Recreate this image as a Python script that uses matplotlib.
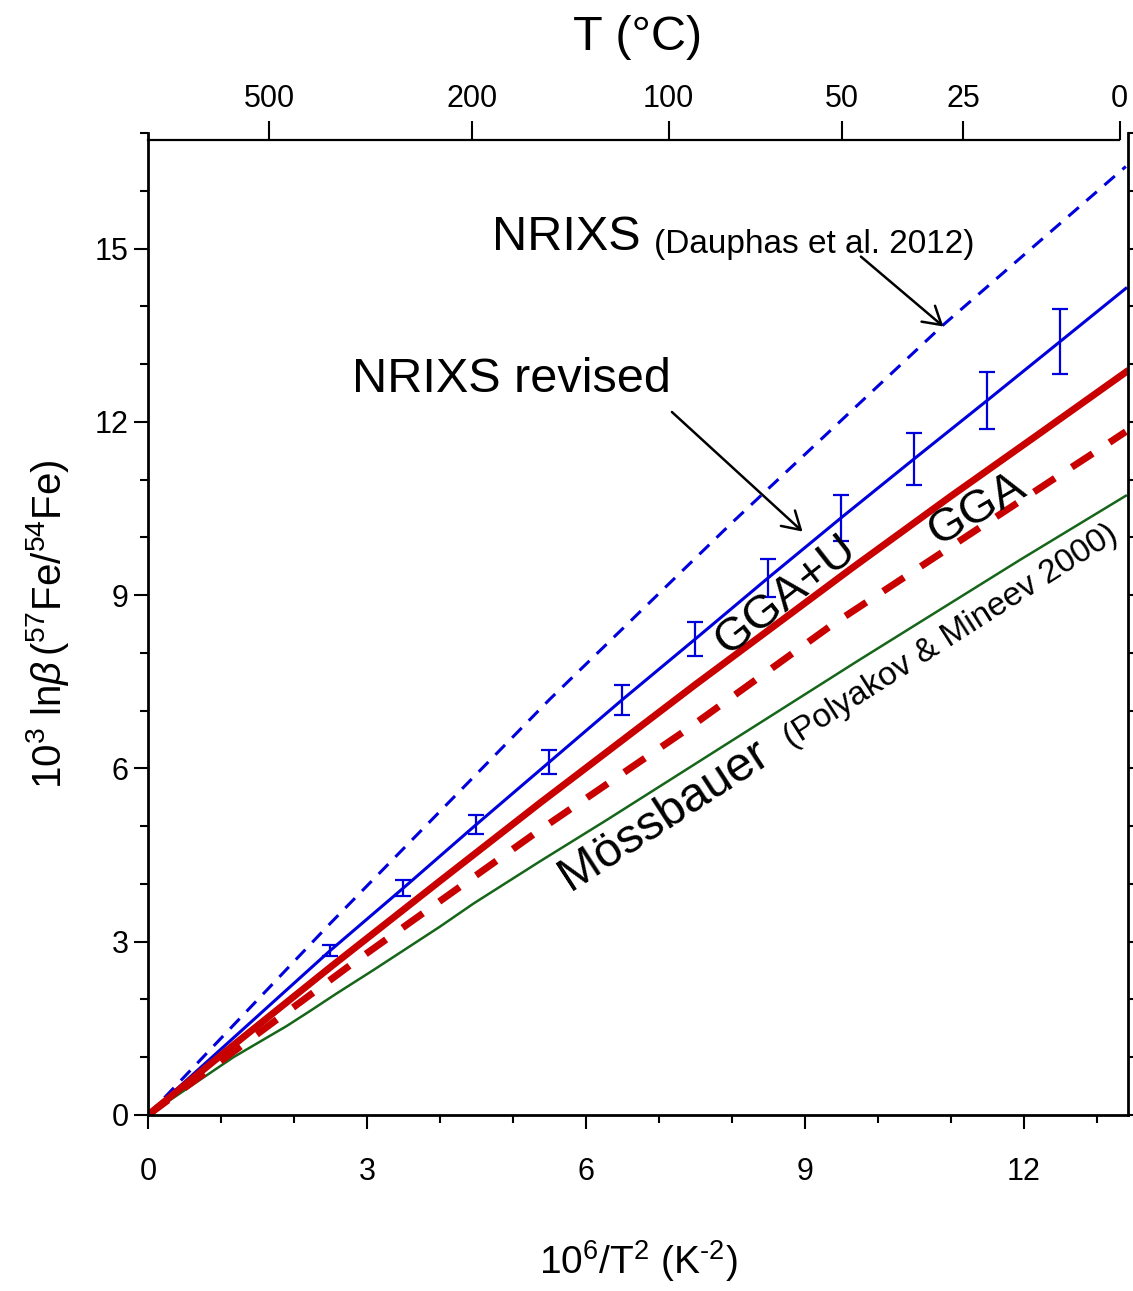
import numpy as np
import matplotlib
matplotlib.use("Agg")
import matplotlib.pyplot as plt
from matplotlib.ticker import MultipleLocator

plt.rcParams['font.family'] = ['Liberation Sans', 'DejaVu Sans']
plt.rcParams['mathtext.fontset'] = 'custom'
plt.rcParams['mathtext.rm'] = 'Liberation Sans'
plt.rcParams['mathtext.it'] = 'Liberation Sans:italic'

# NRIXS (Dauphas et al. 2012), dashed blue
x_dauphas = [0, 2.5, 5.5, 8.0, 10.9, 13.4]
y_dauphas = [0, 3.32, 7.19, 10.25, 13.68, 16.42]

# NRIXS revised, solid blue + error bars
x_revised = [0, 2.5, 3.5, 4.5, 5.5, 6.5, 7.5, 8.5, 9.5, 10.5, 11.5, 12.5, 13.4]
y_revised = [0, 2.85, 3.93, 5.03, 6.11, 7.19, 8.24, 9.30, 10.34, 11.36, 12.37, 13.39, 14.31]
x_err = [2.5, 3.5, 4.5, 5.5, 6.5, 7.5, 8.5, 9.5, 10.5, 11.5, 12.5]
y_err = [2.85, 3.93, 5.03, 6.11, 7.19, 8.24, 9.30, 10.34, 11.36, 12.37, 13.39]
e_err = [0.09, 0.14, 0.16, 0.21, 0.26, 0.30, 0.33, 0.40, 0.45, 0.50, 0.56]

# GGA+U, thick red
x_ggau = [0, 1.2, 2.5, 4.0, 5.37, 7.5, 9.66, 11.0, 12.22, 13.4]
y_ggau = [0, 1.24, 2.56, 4.05, 5.40, 7.45, 9.48, 10.71, 11.80, 12.86]

# GGA, dashed red
x_gga = [0, 2.81, 5.33, 7.38, 9.38, 12.52, 13.03, 13.4]
y_gga = [0, 2.63, 4.90, 6.67, 8.49, 11.10, 11.52, 11.83]

# Mossbauer (Polyakov & Mineev 2000), green
x_moss = [0, 1.17, 1.90, 2.22, 2.58, 3.09, 4.0, 4.46, 5.37, 6.29, 9.75, 11.95, 13.4]
y_moss = [0, 1.0, 1.54, 1.80, 2.10, 2.51, 3.26, 3.66, 4.39, 5.11, 7.88, 9.61, 10.72]

# top axis temperatures (deg C)
t_celsius = [500, 200, 100, 50, 25, 0]

blue = '#0000dd'
red = '#c80000'
green = '#16661a'

fig = plt.figure(figsize=(11.33, 12.91), dpi=100)
ax = fig.add_axes([148/1133, 1-1115/1291, (1128-148)/1133, (1115-133)/1291])

ax.plot(x_dauphas, y_dauphas, color=blue, lw=2.2, dashes=(4.5, 3.3))
ax.plot(x_revised, y_revised, color=blue, lw=2.2)
ax.errorbar(x_err, y_err, yerr=e_err, fmt='none', ecolor=blue,
            elinewidth=1.6, capsize=5.5, capthick=1.6)
ax.plot(x_moss, y_moss, color=green, lw=1.8)
ax.plot(x_gga, y_gga, color=red, lw=5, dashes=(3.6, 2.9))
ax.plot(x_ggau, y_ggau, color=red, lw=5)

ax.set_xlim(0, 13.43)
ax.set_ylim(0, 17)
ax.set_xticks(np.arange(0, 13, 3))
ax.set_yticks(np.arange(0, 16, 3))
ax.xaxis.set_minor_locator(MultipleLocator(1))
ax.yaxis.set_minor_locator(MultipleLocator(1))
ax.tick_params(axis='y', which='both', left=True, right=True, direction='out')
ax.tick_params(axis='x', which='both', top=False, direction='out')
ax.tick_params(which='major', length=10, width=1.5, labelsize=22)
ax.tick_params(which='minor', length=6, width=1.5)
ax.tick_params(axis='x', pad=20)
ax.tick_params(axis='y', pad=4)
ax.spines['top'].set_visible(False)
for s in ['left', 'right', 'bottom']:
    ax.spines[s].set_linewidth(2)

ax.set_xlabel('10$^6$/T$^2$ (K$^{\u2010 2}$)', fontsize=28, labelpad=37)
ax.set_ylabel(r'$\mathregular{10^3\ ln}\mathit{\beta}\mathregular{\,(^{57}Fe/^{54}Fe)}$',
              fontsize=29, labelpad=17)

# top temperature axis (drawn slightly compressed, as in the original)
ax2 = ax.twiny()
ax2.set_xlim(0, 13.52)
t_pos = [1e6 / (t + 273.15) ** 2 for t in t_celsius]
ax2.set_xticks(t_pos, [str(t) for t in t_celsius])
for s in ['left', 'right', 'bottom']:
    ax2.spines[s].set_visible(False)
ax2.spines['top'].set_position(('axes', 1 - 7/982))
ax2.spines['top'].set_linewidth(1.6)
ax2.spines['top'].set_bounds(0, 13.40)
ax2.tick_params(axis='x', direction='out', length=14, width=1.5, labelsize=22, pad=5)
ax2.set_xlabel('T (°C)', fontsize=35, labelpad=24)

# annotations
ax.text(4.71, 14.98, 'NRIXS', fontsize=35, ha='left', va='baseline')
ax.text(6.93, 14.93, '(Dauphas et al. 2012)', fontsize=24, ha='left', va='baseline')
ax.text(2.79, 12.52, 'NRIXS revised', fontsize=35, ha='left', va='baseline')
ax.text(8.74, 9.0, 'GGA+U', fontsize=34, rotation=38, ha='center', va='center',
        rotation_mode='anchor')
ax.text(11.36, 10.48, 'GGA', fontsize=34, rotation=30, ha='center', va='center',
        rotation_mode='anchor')
ax.text(5.78, 3.87, 'Mössbauer', fontsize=35, rotation=33, ha='left', va='baseline',
        rotation_mode='anchor')
ax.text(8.82, 6.36, '(Polyakov & Mineev 2000)', fontsize=24, rotation=32.5,
        ha='left', va='baseline', rotation_mode='anchor')

arrow = dict(arrowstyle='->,head_length=0.5,head_width=0.3', lw=1.8, color='k',
             mutation_scale=25, shrinkA=0, shrinkB=0)
ax.annotate('', xy=(10.90, 13.65), xytext=(9.77, 14.86), arrowprops=arrow)
ax.annotate('', xy=(8.97, 10.10), xytext=(7.18, 12.17), arrowprops=arrow)

fig.savefig('out.png', dpi=100)
